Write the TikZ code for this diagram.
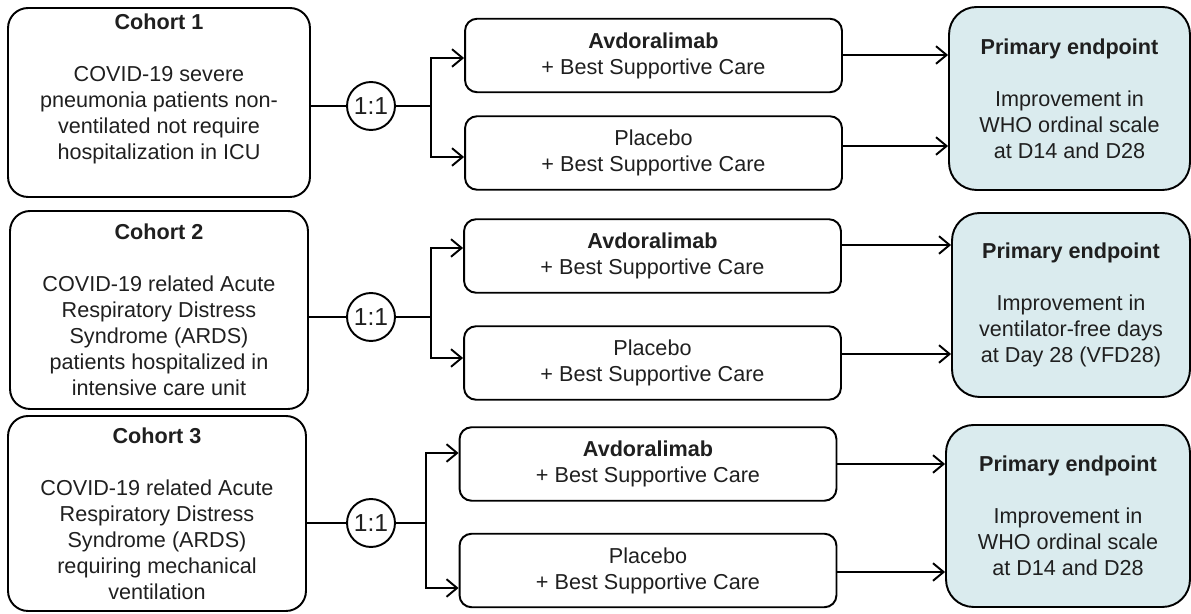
\documentclass[tikz,border=0pt]{standalone}
\usepackage{fontspec}
\setmainfont{Liberation Sans}
\usetikzlibrary{arrows.meta}
\definecolor{endpointblue}{RGB}{218,235,238}

\begin{document}
\begin{tikzpicture}[x=0.02cm,y=-0.02cm,line width=1.1pt,
	font=\fontsize{12.3}{14.8}\selectfont,
	>={Straight Barb[length=6pt,width=10pt]},
	cohort/.style={draw,rounded corners=0.4cm,align=center,inner sep=0pt,text=black!88},
	arm/.style={draw,rounded corners=0.24cm,align=center,minimum width=7.54cm,minimum height=1.47cm,inner sep=0pt,text=black!88},
	endpoint/.style={draw,fill=endpointblue,rounded corners=0.55cm,align=center,inner sep=0pt,text=black!88},
	ratio/.style={draw,circle,minimum size=0.96cm,inner sep=0pt,text=black!88,font=\fontsize{14}{16}\selectfont}]
	\useasboundingbox (0,0) rectangle (1191,614);

	% Kohorten links
	\node[cohort,minimum width=6.04cm,minimum height=3.78cm] (coh1) at (159,102.5) {\textbf{Cohort 1}\\[15pt]COVID-19 severe\\pneumonia patients non-\\ventilated not require\\hospitalization in ICU\\[3pt]\mbox{}};
	\node[cohort,minimum width=5.96cm,minimum height=3.96cm] (coh2) at (159,310) {\textbf{Cohort 2}\\[15pt]COVID-19 related Acute\\Respiratory Distress\\Syndrome (ARDS)\\patients hospitalized in\\intensive care unit};
	\node[cohort,minimum width=5.96cm,minimum height=3.9cm] (coh3) at (157,513.5) {\textbf{Cohort 3}\\[15pt]COVID-19 related Acute\\Respiratory Distress\\Syndrome (ARDS)\\requiring mechanical\\ventilation};

	% Randomisierung
	\node[ratio] (r1) at (371,106) {1:1};
	\node[ratio] (r2) at (371,317) {1:1};
	\node[ratio] (r3) at (371,523) {1:1};

	% Behandlungsarme
	\node[arm] (arm1a) at (653.5,55.5) {\textbf{Avdoralimab}\\+ Best Supportive Care};
	\node[arm] (arm1b) at (653.5,153) {Placebo\\+ Best Supportive Care};
	\node[arm] (arm2a) at (652.5,256) {\textbf{Avdoralimab}\\+ Best Supportive Care};
	\node[arm] (arm2b) at (652.5,363) {Placebo\\+ Best Supportive Care};
	\node[arm] (arm3a) at (648,464) {\textbf{Avdoralimab}\\+ Best Supportive Care};
	\node[arm] (arm3b) at (648,570.5) {Placebo\\+ Best Supportive Care};

	% Endpunkte rechts
	\node[endpoint,minimum width=4.82cm,minimum height=3.66cm] (ep1) at (1069.5,98.5) {\textbf{Primary endpoint}\\[15pt]Improvement in\\WHO ordinal scale\\at D14 and D28};
	\node[endpoint,minimum width=4.76cm,minimum height=3.68cm] (ep2) at (1071,305) {\textbf{Primary endpoint}\\[15pt]Improvement in\\ventilator-free days\\at Day 28 (VFD28)};
	\node[endpoint,minimum width=4.88cm,minimum height=3.64cm] (ep3) at (1068,516) {\textbf{Primary endpoint}\\[15pt]Improvement in\\WHO ordinal scale\\at D14 and D28};

	% Verzweigungen
	\coordinate (j1a) at (431,58);
	\coordinate (j1b) at (431,157);
	\coordinate (j2a) at (431,248);
	\coordinate (j2b) at (431,358);
	\coordinate (j3a) at (426,453);
	\coordinate (j3b) at (426,588);

	\draw (coh1.east |- r1) -- (r1);
	\draw (r1) -- (r1 -| j1a);
	\draw[<->] (j1a -| arm1a.west) -- (j1a) -- (j1b) -- (j1b -| arm1b.west);
	\draw[->] (arm1a.east |- 0,55) -- (ep1.west |- 0,55);
	\draw[->] (arm1b.east |- 0,146) -- (ep1.west |- 0,146);

	\draw (coh2.east |- r2) -- (r2);
	\draw (r2) -- (r2 -| j2a);
	\draw[<->] (j2a -| arm2a.west) -- (j2a) -- (j2b) -- (j2b -| arm2b.west);
	\draw[->] (arm2a.east |- 0,245) -- (ep2.west |- 0,245);
	\draw[->] (arm2b.east |- 0,354) -- (ep2.west |- 0,354);

	\draw (coh3.east |- r3) -- (r3);
	\draw (r3) -- (r3 -| j3a);
	\draw[<->] (j3a -| arm3a.west) -- (j3a) -- (j3b) -- (j3b -| arm3b.west);
	\draw[->] (arm3a.east) -- (arm3a.east -| ep3.west);
	\draw[->] (arm3b.east |- 0,572) -- (ep3.west |- 0,572);
\end{tikzpicture}
\end{document}
